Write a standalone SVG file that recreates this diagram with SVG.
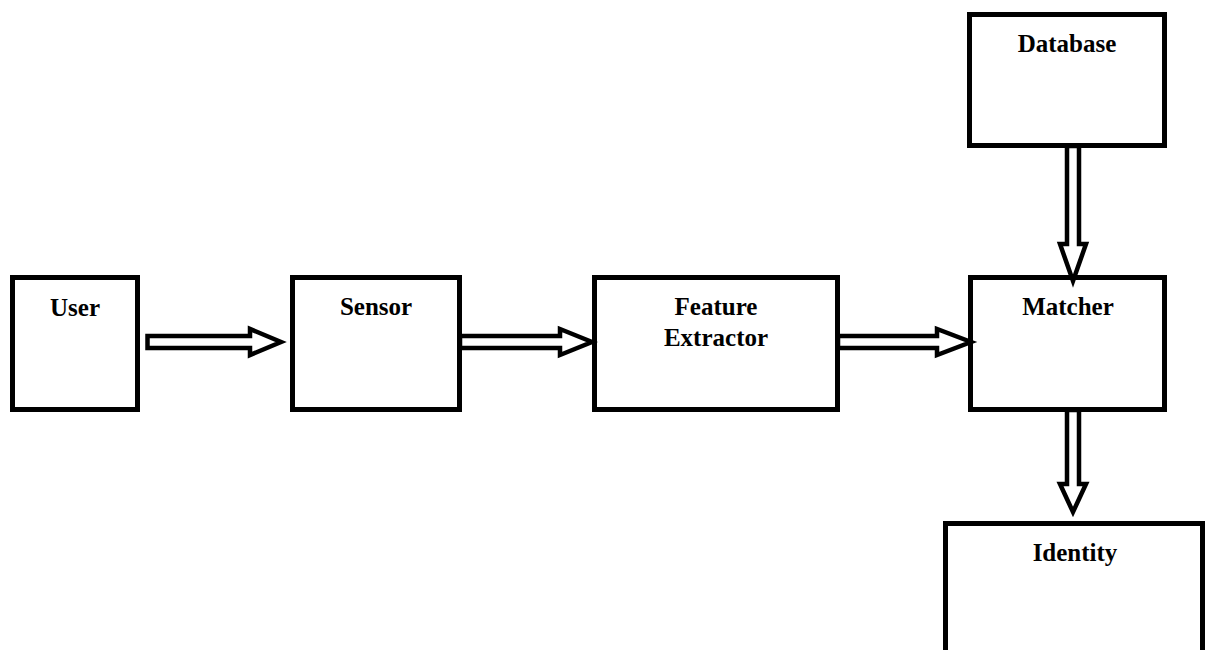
<svg xmlns="http://www.w3.org/2000/svg" width="1205" height="650" viewBox="0 0 1205 650">
  <style>
    .box { fill: none; stroke: #000; stroke-width: 5; }
    .arrow { fill: #fff; stroke: #000; stroke-width: 4.5; stroke-linejoin: miter; stroke-miterlimit: 6; }
    .label { font-family: "Liberation Serif", "Times New Roman", serif; font-weight: bold; font-size: 25px; fill: #000; text-anchor: middle; }
  </style>
  <rect width="1205" height="650" fill="#fff"/>

  <!-- hollow block arrows between stages -->
  <g id="connectors">
    <polygon class="arrow" points="147.5,336 250,336 250,329 281,342 250,355 250,348 147.5,348"/>
    <polygon class="arrow" points="460,336 560,336 560,329 592,342 560,355 560,348 460,348"/>
    <polygon class="arrow" points="838,336 937,336 937,329 971,342 937,355 937,348 838,348"/>
    <polygon class="arrow" points="1067,146 1067,244 1060,244 1073,281 1086,244 1079,244 1079,146"/>
    <polygon class="arrow" points="1067,410 1067,484 1060,484 1073,512 1086,484 1079,484 1079,410"/>
  </g>

  <g id="user">
    <rect class="box" x="12.5" y="277.5" width="125" height="132"/>
    <text class="label" x="75" y="316">User</text>
  </g>

  <g id="sensor">
    <rect class="box" x="292.5" y="277.5" width="167" height="132"/>
    <text class="label" x="376" y="315">Sensor</text>
  </g>

  <g id="feature-extractor">
    <rect class="box" x="594.5" y="277.5" width="243" height="132"/>
    <text class="label" x="716" y="315">Feature</text>
    <text class="label" x="716" y="346">Extractor</text>
  </g>

  <g id="matcher">
    <rect class="box" x="970.5" y="277.5" width="194" height="132"/>
    <text class="label" x="1068" y="315">Matcher</text>
  </g>

  <g id="database">
    <rect class="box" x="969.5" y="14.5" width="195" height="131"/>
    <text class="label" x="1067" y="52">Database</text>
  </g>

  <g id="identity">
    <rect class="box" x="945.5" y="523.5" width="257" height="200"/>
    <text class="label" x="1075" y="561">Identity</text>
  </g>
</svg>
